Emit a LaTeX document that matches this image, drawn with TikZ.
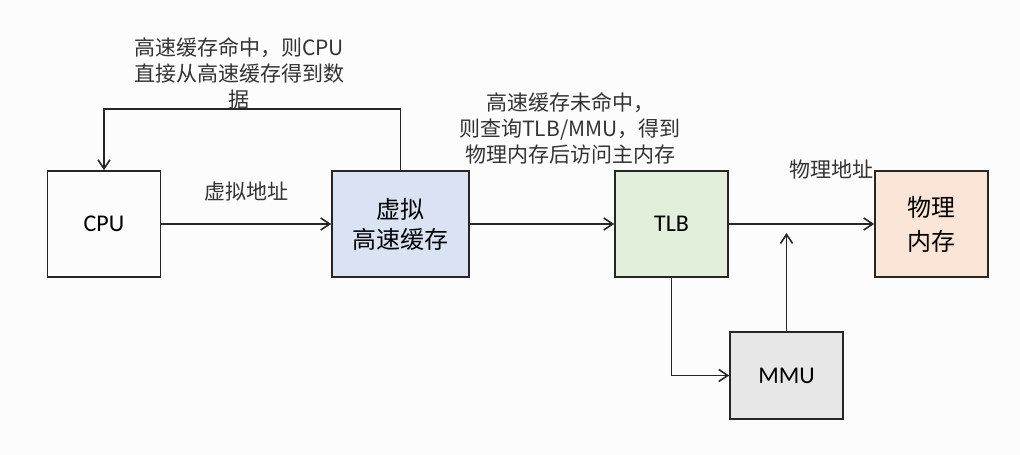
\documentclass[tikz,border=0pt]{standalone}
\usepackage{fontspec}
\setmainfont{Carlito}
\newfontfamily\cjk{Noto Sans CJK SC}
\usetikzlibrary{arrows.meta}
\definecolor{linec}{HTML}{262626}
\definecolor{labelc}{HTML}{333333}
\definecolor{bgc}{HTML}{FCFCFC}
\definecolor{cachec}{HTML}{DAE3F3}
\definecolor{tlbc}{HTML}{E2EFDA}
\definecolor{memc}{HTML}{FBE5D6}
\definecolor{mmuc}{HTML}{E7E7E7}
\begin{document}
\begin{tikzpicture}[x=1pt,y=1pt,
  box/.style={draw=linec, line width=1.6pt, minimum width=113pt, minimum height=106pt, inner sep=0pt, text=black, font=\fontsize{24}{30}\selectfont, align=center},
  cjkbox/.style={box, font=\cjk\fontsize{24}{#1}\selectfont},
  conn/.style={draw=linec, line width=1.6pt, -{Straight Barb[length=9pt,width=12pt,line width=1.6pt]}},
  lbl/.style={font=\cjk\fontsize{21}{26}\selectfont, text=labelc, align=center, inner sep=0pt}]
\useasboundingbox (0,0) rectangle (1020,455);
\fill[bgc] (0,0) rectangle (1020,455);
\node[box] (cpu) at (104,231) {CPU};
\node[cjkbox=30, minimum width=137pt, fill=cachec] (cache) at (400.5,231) {虚拟\\高速缓存};
\node[box, fill=tlbc] (tlb) at (671.5,231) {TLB};
\node[cjkbox=34, fill=memc] (mem) at (931.5,231) {物理\\内存};
\node[box, minimum height=87pt, fill=mmuc] (mmu) at (786.5,79.5) {MMU};
\coordinate (fb) at (0,346);
\coordinate (up) at (786.5,222);
\draw[conn] (cpu) -- (cache);
\draw[conn] (cache) -- (tlb);
\draw[conn] (tlb) -- (mem);
\draw[conn] (cache.north) -- (cache.north |- fb) -| (cpu.north);
\draw[conn] (tlb.south) |- (mmu.west);
\draw[conn] (mmu.north) -- (up);
\node[lbl] (l1) at (239,382) {高速缓存命中，则CPU\\直接从高速缓存得到数\\据};
\node[lbl] (l2) at (246,263) {虚拟地址};
\node[lbl] (l3) at (570,326.5) {高速缓存未命中，\\则查询TLB/MMU，得到\\物理内存后访问主内存};
\node[lbl] (l4) at (831,285) {物理地址};
\end{tikzpicture}
\end{document}
